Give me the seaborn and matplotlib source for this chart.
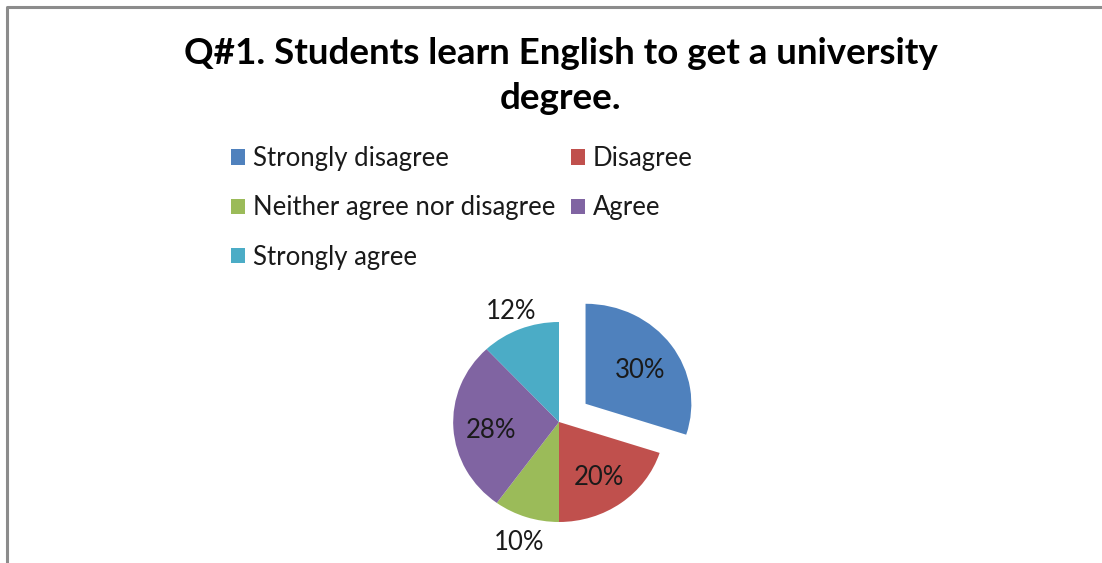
import numpy as np
import matplotlib
matplotlib.use("Agg")
import matplotlib.pyplot as plt
from matplotlib.patches import Patch
import seaborn as sns

# Survey responses for question 1
categories = ["Strongly disagree", "Disagree", "Neither agree nor disagree", "Agree", "Strongly agree"]
percentages = [30, 20, 10, 28, 12]
colors = ["#4F81BD", "#C0504D", "#9BBB59", "#8064A2", "#4BACC6"]
title_text = "Q#1. Students learn English to get a university\ndegree."

sns.set_theme(style="white")
plt.rcParams["font.family"] = ["Lato", "DejaVu Sans"]

palette = sns.color_palette(colors)

fig = plt.figure(figsize=(11.02, 5.63), dpi=100)
fig.patch.set_facecolor("white")

# Outer frame of the chart area
frame_ax = fig.add_axes([0, 0, 1, 1])
frame_ax.set_xlim(0, 1102)
frame_ax.set_ylim(563, 0)
frame_ax.axis("off")
frame_ax.plot([7, 7, 1110], [580, 7, 7], color="#8c8c8c", lw=2.2, solid_capstyle="butt")

# Pie axes: centre of pie at (559, 422) px, slightly wider than tall
W, H = 1102, 563
ax = fig.add_axes([359 / W, 0, 400 / W, 282 / H])

explode = [0.31, 0, 0, 0, 0]
wedges, _ = ax.pie(
    percentages,
    colors=palette,
    startangle=90,
    counterclock=False,
    explode=explode,
    radius=1.0,
    wedgeprops=dict(linewidth=0),
)
ax.set_aspect("auto")
ax.set_xlim(-1.89, 1.89)
ax.set_ylim(-1.41, 1.41)
ax.axis("off")

# Percentage labels: inside for large slices, outside for the small ones
total = sum(percentages)
angle = 90.0
for pct, exp in zip(percentages, explode):
    span = 360.0 * pct / total
    mid = np.deg2rad(angle - span / 2)
    dist = 0.64 if pct >= 20 else 1.23
    cx, cy = exp * np.cos(mid), exp * np.sin(mid)
    ax.text(cx + dist * np.cos(mid), cy + dist * np.sin(mid) - 0.04, f"{pct}%",
            ha="center", va="center", fontsize=18.5, color="#1a1a1a", clip_on=False)
    angle -= span

# Title
fig.text(561 / W, 1 - 76 / H, title_text, ha="center", va="center",
         fontsize=26.5, fontweight="bold", color="black", linespacing=1.45)

# Legend laid out row-wise in two columns
order = [0, 2, 4, 1, 3]
handles = [Patch(facecolor=palette[i], edgecolor="none") for i in order]
labels = [categories[i] for i in order]
leg = fig.legend(
    handles, labels, ncol=2, loc="upper left",
    bbox_to_anchor=(231 / W, 1 - 146 / H),
    frameon=False, fontsize=18.5, handlelength=0.55, handleheight=0.55,
    handletextpad=0.3, columnspacing=0.6, labelspacing=0.95,
    borderpad=0, borderaxespad=0,
)
for t in leg.get_texts():
    t.set_color("#1a1a1a")

fig.savefig("out.png", dpi=100, facecolor="white")
